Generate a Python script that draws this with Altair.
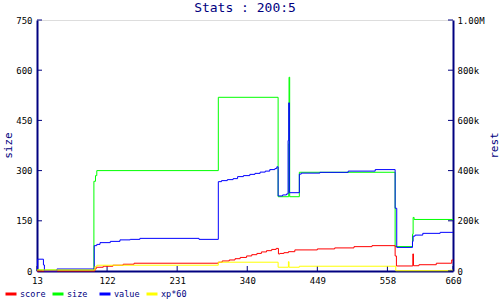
import altair as alt
import pandas as pd

NAVY = "#000080"
FONT = "DejaVu Sans Mono"

# ---- data (x = sample index, size on left axis, others in thousands on right axis) ----
size_x = [13, 101.5, 104, 106, 295, 388, 404.5, 405, 406, 421, 570, 597, 598, 599.5, 660]
size_y = [3, 268, 285, 300, 519, 222, 380, 579, 222, 295, 73, 110, 160, 154, 154]

score_x = [13, 103, 105, 116, 131, 147, 164, 295, 301, 312, 321, 329, 339, 347, 355, 362, 370,
           378, 385, 388.5, 391, 397, 404, 414, 449, 476, 506, 534, 570, 572, 597.5, 598.5,
           607, 634, 658, 660]
score_y = [0, 8, 15, 19, 23, 27, 31, 35, 40, 44, 49, 54, 60, 65, 70, 76, 81,
           86, 90, 68, 70, 73, 77, 84, 88, 92, 97, 101, 60, 20, 68, 21,
           25, 31, 44, 44]

value_x = [13, 14, 23, 24.5, 44, 102, 106, 111, 127, 142, 158, 173, 265, 295, 300, 309, 318,
           325, 334, 344, 352, 360, 368, 375, 383, 386, 388, 395, 401, 403.5, 404.5, 405.5,
           421, 424, 453, 497, 539, 570, 572.5, 597, 598, 601, 613, 640, 660]
value_y = [10, 47, 24, 0, 8, 101, 106, 113, 118, 124, 126, 130, 126, 356, 360, 364, 368,
           376, 380, 385, 389, 394, 398, 404, 408, 415, 299, 303, 307, 520, 670, 312,
           386, 390, 393, 398, 404, 250, 94, 118, 139, 143, 150, 154, 154]

xp_x = [13, 103, 106, 295, 388, 404, 405, 421, 571, 655, 660]
xp_y = [4, 17, 23, 35, 15, 37, 15, 19, 1, 3, 3]

series_names = ["score", "size", "value", "xp*60"]
series_colors = ["#ff0000", "#00ff00", "#0000ff", "#ffff00"]

x_ticks = [13, 122, 231, 340, 449, 558, 660]
left_ticks = [0, 150, 300, 450, 600, 750]
right_ticks = [0, 200, 400, 600, 800, 1000]

size_df = pd.DataFrame({"x": size_x, "v": size_y, "series": "size"})
rest_df = pd.concat([
    pd.DataFrame({"x": score_x, "v": score_y, "series": "score"}),
    pd.DataFrame({"x": value_x, "v": value_y, "series": "value"}),
    pd.DataFrame({"x": xp_x, "v": xp_y, "series": "xp*60"}),
], ignore_index=True)

W, H = 416, 251

xscale = alt.Scale(domain=[13, 660], nice=False, zero=False)
lscale = alt.Scale(domain=[0, 750], nice=False)
rscale = alt.Scale(domain=[0, 1000], nice=False)
cscale = alt.Scale(domain=series_names, range=series_colors)

xaxis = alt.Axis(values=x_ticks, title=None, ticks=False, tickSize=0, grid=False,
                 domainColor=NAVY, domainWidth=2, labelColor="black", labelFont=FONT,
                 labelFontSize=9, labelPadding=5, labelFlush=False, labelOverlap=False)
left_axis = alt.Axis(values=left_ticks, title="size", ticks=False, tickSize=0, grid=False,
                     domainColor=NAVY, domainWidth=2, labelColor="black", labelFont=FONT,
                     labelFontSize=9, labelPadding=5, labelOverlap=False,
                     titleFont=FONT, titleFontSize=11, titleFontWeight="normal",
                     titleColor=NAVY, titleAngle=270, titleX=-29, titleY=125,
                     titleAlign="center", titleBaseline="middle")
right_axis = alt.Axis(values=right_ticks, title="rest", orient="right", ticks=False,
                      tickSize=0, grid=False, domainColor=NAVY, domainWidth=2,
                      labelColor="black", labelFont=FONT, labelFontSize=9, labelPadding=4,
                      labelOverlap=False,
                      labelExpr="datum.value == 0 ? '0' : (datum.value >= 1000 ? '1.00M' : datum.value + 'k')",
                      titleFont=FONT, titleFontSize=11, titleFontWeight="normal",
                      titleColor=NAVY, titleAngle=270, titleX=41, titleY=125,
                      titleAlign="center", titleBaseline="middle")

legend = alt.Legend(orient="none", legendX=-33, legendY=267, direction="horizontal",
                    title=None, symbolType="stroke", symbolStrokeWidth=3, symbolSize=121,
                    labelFont=FONT, labelFontSize=8.5, labelColor=NAVY, labelOffset=2,
                    columnPadding=0, gridAlign="all", padding=0)

size_line = alt.Chart(size_df).mark_line(interpolate="step-after", strokeWidth=1).encode(
    x=alt.X("x:Q", scale=xscale, axis=xaxis),
    y=alt.Y("v:Q", scale=lscale, axis=left_axis),
    color=alt.Color("series:N", scale=cscale, legend=legend),
)
left_tick_rules = alt.Chart(pd.DataFrame({"t": left_ticks})).mark_rule(
    color=NAVY, strokeWidth=1).encode(
    y=alt.Y("t:Q", scale=lscale, axis=left_axis), x=alt.value(0), x2=alt.value(5))
x_tick_rules = alt.Chart(pd.DataFrame({"t": x_ticks})).mark_rule(
    color=NAVY, strokeWidth=1).encode(
    x=alt.X("t:Q", scale=xscale, axis=xaxis), y=alt.value(H - 5), y2=alt.value(H))

rest_lines = alt.Chart(rest_df).mark_line(interpolate="step-after", strokeWidth=1).encode(
    x=alt.X("x:Q", scale=xscale, axis=xaxis),
    y=alt.Y("v:Q", scale=rscale, axis=right_axis),
    color=alt.Color("series:N", scale=cscale, legend=legend),
)
right_tick_rules = alt.Chart(pd.DataFrame({"t": right_ticks})).mark_rule(
    color=NAVY, strokeWidth=1).encode(
    y=alt.Y("t:Q", scale=rscale, axis=right_axis), x=alt.value(W - 5), x2=alt.value(W))

left = alt.layer(size_line, left_tick_rules, x_tick_rules)
right = alt.layer(rest_lines, right_tick_rules)

chart = alt.layer(left, right).resolve_scale(y="independent").properties(
    width=W, height=H,
    title=alt.TitleParams("Stats : 200:5", font=FONT, fontSize=13, color=NAVY,
                          fontWeight="normal", anchor="middle", offset=1),
    autosize=alt.AutoSizeParams(type="none"),
    padding={"left": 37, "top": 20, "right": 47, "bottom": 29},
).configure_view(strokeWidth=0).configure(background="white")

chart.save("out.html", embed_options={"renderer": "svg", "actions": False})
